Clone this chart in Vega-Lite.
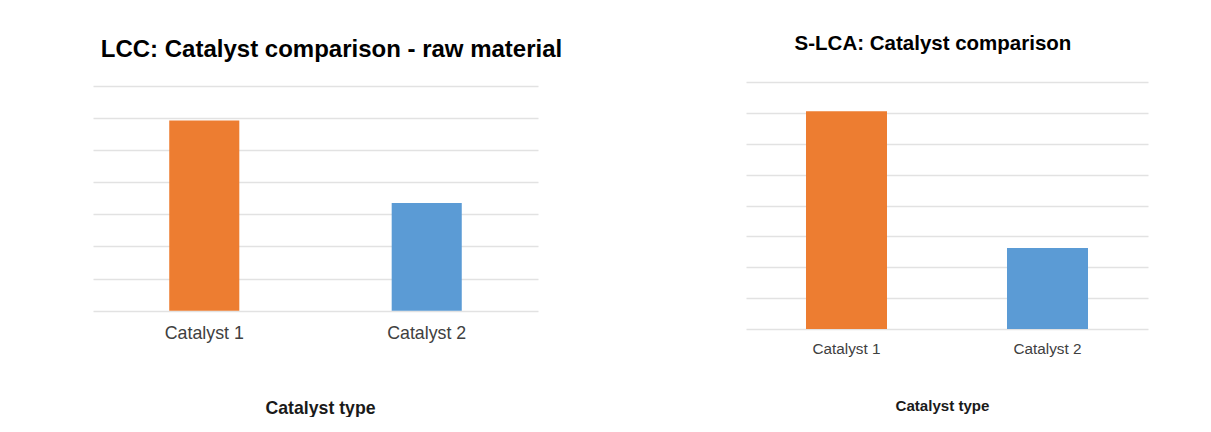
{
  "$schema": "https://vega.github.io/schema/vega-lite/v6.json",
  "background": "white",
  "padding": {"left": 93, "top": 34, "right": 10, "bottom": 0},
  "spacing": 208,
  "bounds": "flush",
  "config": {
    "font": "Liberation Sans",
    "view": {"stroke": null},
    "axis": {"labelColor": "#404040", "titleColor": "#1a1a1a", "gridColor": "#e2e2e2", "gridWidth": 1.5}
  },
  "datasets": {
    "lcc": [
      {"catalyst": "Catalyst 1", "value": 5.92},
      {"catalyst": "Catalyst 2", "value": 3.35}
    ],
    "slca": [
      {"catalyst": "Catalyst 1", "value": 7.05},
      {"catalyst": "Catalyst 2", "value": 2.62}
    ]
  },
  "hconcat": [
    {
      "title": {"text": "LCC: Catalyst comparison - raw material", "fontSize": 24, "fontWeight": "bold", "color": "#000000", "baseline": "alphabetic", "offset": 1.4, "dx": 16, "anchor": "middle"},
      "data": {"name": "lcc"},
      "width": 445,
      "height": 228.7,
      "mark": {"type": "bar"},
      "encoding": {
        "x": {
          "field": "catalyst", "type": "nominal",
          "scale": {"paddingInner": 0.685, "paddingOuter": 0.3427},
          "axis": {"title": "Catalyst type", "labelAngle": 0, "labelFontSize": 17.8, "labelPadding": 14, "ticks": false, "domain": false,
                   "titleFontSize": 17.7, "titleFontWeight": "bold", "titleBaseline": "alphabetic", "titleY": 102.3, "titleX": 227, "titleAlign": "center"}
        },
        "y": {
          "field": "value", "type": "quantitative",
          "scale": {"domain": [0, 7.115], "nice": false, "zero": true},
          "axis": {"title": null, "labels": false, "ticks": false, "domain": false, "grid": true, "values": [0, 1, 2, 3, 4, 5, 6, 7]}
        },
        "color": {"field": "catalyst", "type": "nominal", "scale": {"domain": ["Catalyst 1", "Catalyst 2"], "range": ["#ED7D31", "#5B9BD5"]}, "legend": null}
      }
    },
    {
      "title": {"text": "S-LCA: Catalyst comparison", "fontSize": 20.5, "fontWeight": "bold", "color": "#000000", "baseline": "alphabetic", "offset": 11.3, "dx": -14, "anchor": "middle"},
      "data": {"name": "slca"},
      "width": 402,
      "height": 247,
      "mark": {"type": "bar"},
      "encoding": {
        "x": {
          "field": "catalyst", "type": "nominal",
          "scale": {"paddingInner": 0.597, "paddingOuter": 0.2985},
          "axis": {"title": "Catalyst type", "labelAngle": 0, "labelFontSize": 15.3, "labelPadding": 12.6, "ticks": false, "domain": false,
                   "titleFontSize": 15.1, "titleFontWeight": "bold", "titleBaseline": "alphabetic", "titleY": 81.4, "titleX": 196, "titleAlign": "center"}
        },
        "y": {
          "field": "value", "type": "quantitative",
          "scale": {"domain": [0, 8], "nice": false, "zero": true},
          "axis": {"title": null, "labels": false, "ticks": false, "domain": false, "grid": true, "values": [0, 1, 2, 3, 4, 5, 6, 7, 8]}
        },
        "color": {"field": "catalyst", "type": "nominal", "scale": {"domain": ["Catalyst 1", "Catalyst 2"], "range": ["#ED7D31", "#5B9BD5"]}, "legend": null}
      }
    }
  ]
}
